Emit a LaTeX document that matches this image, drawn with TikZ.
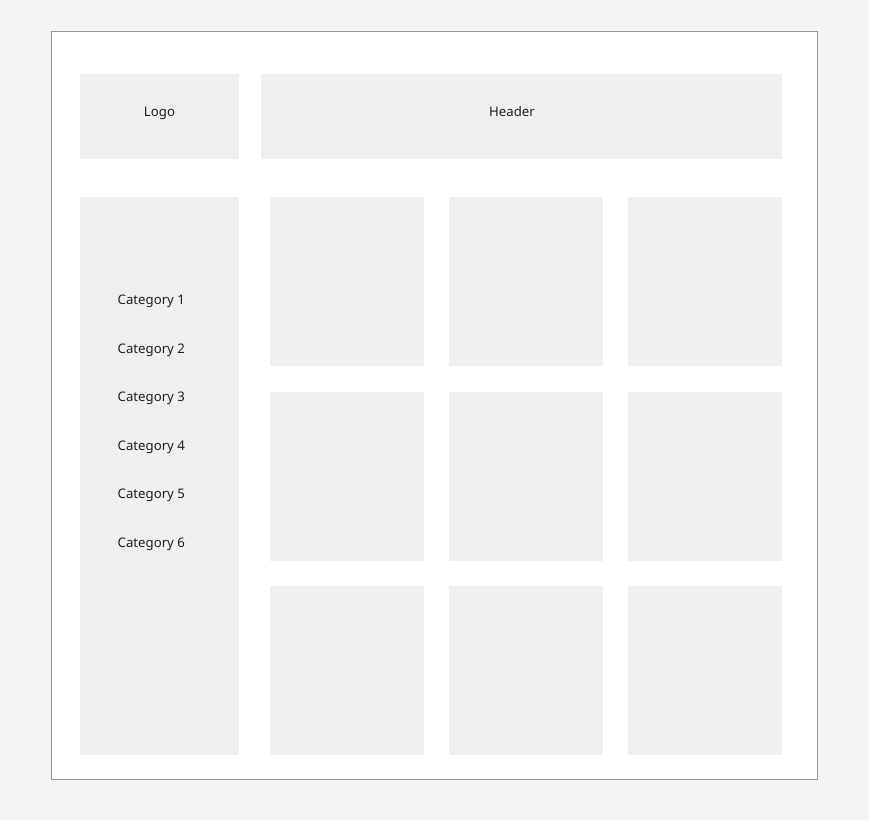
\documentclass[tikz,border=0pt]{standalone}
\usepackage{fontspec}
\setmainfont{Noto Sans}
\definecolor{pagebg}{HTML}{F4F4F4}
\definecolor{boxfill}{HTML}{EFEFEF}
\definecolor{frameline}{HTML}{999999}
\definecolor{txt}{HTML}{1E1E1E}
\tikzset{
  x=1pt,y=-1pt,
  blk/.style={fill=boxfill,draw=none},
  lbl/.style={font=\fontsize{13.2}{15}\selectfont,text=txt,inner sep=0pt,text height=9.6pt,text depth=3pt},
  cat/.style={lbl,anchor=west}
}
\begin{document}
\begin{tikzpicture}
\fill[pagebg] (0,0) rectangle (869,820);
\useasboundingbox (0,0) rectangle (869,820);
\draw[fill=white,draw=frameline,line width=1pt] (51,31) rectangle (817,779);
\fill[blk] (80,74) rectangle (239,159);
\node[lbl] (logo) at (159.5,113.5) {Logo};
\fill[blk] (261,74) rectangle (782,159);
\node[lbl] (header) at (512,113.5) {Header};
\fill[blk] (80,197) rectangle (239,755);
\foreach \i/\y in {1/300,2/349,3/397,4/446,5/494,6/543}{
  \node[cat] (cat\i) at (117.5,\y+1.5) {Category \i};
}
\foreach \c/\xa/\xb in {1/270/424,2/449/603,3/628/782}{
  \foreach \r/\ya/\yb in {1/197/366,2/392/561,3/586/755}{
    \fill[blk] (\xa,\ya) rectangle (\xb,\yb);
  }
}
\end{tikzpicture}
\end{document}
